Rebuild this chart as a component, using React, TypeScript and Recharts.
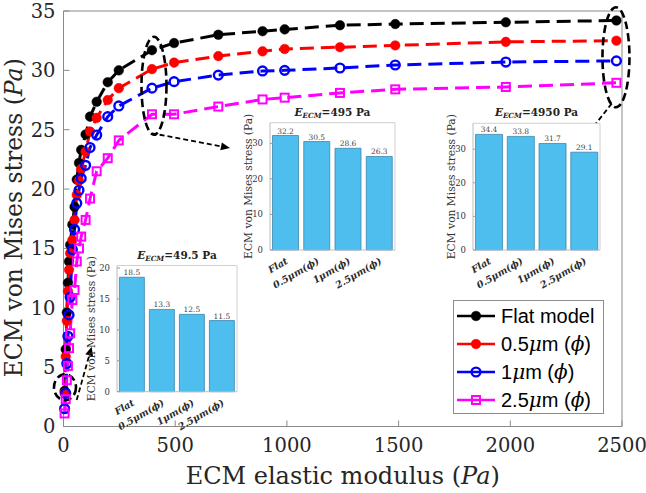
import React from "react";
import {
  LineChart,
  Line,
  XAxis,
  YAxis,
  BarChart,
  Bar,
  LabelList,
  Legend,
  ReferenceDot,
  ReferenceLine,
} from "recharts";

// ECM elastic modulus (Pa), shared by all series
const modulus = [
  4.95, 9.9, 14.85, 19.8, 24.75, 29.7, 39.6, 49.5, 59.4, 69.3, 79.2, 99, 118.8, 148.5, 198, 247.5, 396, 495, 693,
  891, 990, 1237.5, 1485, 1980, 2475,
];
// ECM von Mises stress (Pa)
const flatModel = [
  3.0, 6.5, 9.6, 12.1, 13.9, 15.3, 17.0, 18.5, 20.8, 22.2, 23.3, 24.6, 26.1, 27.35, 29.0, 30.0, 31.7, 32.3, 33.0,
  33.3, 33.45, 33.8, 33.9, 34.05, 34.2,
];
const pillar05 = [
  2.8, 5.9, 8.9, 11.4, 13.2, 14.6, 15.7, 17.4, 19.5, 20.7, 21.7, 23.15, 24.85, 26.0, 27.5, 28.5, 30.1, 30.65, 31.2,
  31.6, 31.8, 31.95, 32.1, 32.4, 32.5,
];
const pillar1 = [
  1.5, 2.8, 5.3, 7.6, 9.4, 10.9, 14.9, 16.6, 18.8, 19.9, 20.9, 22.0, 23.5, 24.55, 26.1, 27.0, 28.5, 29.05, 29.6,
  29.95, 30.0, 30.2, 30.45, 30.7, 30.8,
];
const pillar25 = [
  1.1, 2.3, 3.9, 5.1, 6.6, 7.85, 10.65, 11.5, 13.9, 15.0, 16.0, 17.4, 19.2, 21.5, 22.6, 24.1, 26.3, 26.3, 26.95,
  27.55, 27.7, 28.1, 28.4, 28.6, 28.95,
];
const seriesNames = ["Flat model", "0.5μm (ϕ)", "1μm (ϕ)", "2.5μm (ϕ)"];
const xTicks = [0, 500, 1000, 1500, 2000, 2500];
const yTicks = [0, 5, 10, 15, 20, 25, 30, 35];

// inset bar charts
const barCategories = ["Flat", "0.5μm(ϕ)", "1μm(ϕ)", "2.5μm(ϕ)"];
const stressAt49 = [18.5, 13.3, 12.5, 11.5];
const stressAt495 = [32.2, 30.5, 28.6, 26.3];
const stressAt4950 = [34.4, 33.8, 31.7, 29.1];

const SERIF = '"DejaVu Serif", serif';
const SANS = '"Liberation Sans", Arial, sans-serif';
const AXIS_GRAY = "#8a8a8a";

const lineData = modulus.map((E, i) => ({
  E,
  flat: flatModel[i],
  p05: pillar05[i],
  p1: pillar1[i],
  p25: pillar25[i],
}));

const series = [
  { key: "flat", name: seriesNames[0], color: "#000000", marker: "disc" },
  { key: "p05", name: seriesNames[1], color: "#ff0000", marker: "disc" },
  { key: "p1", name: seriesNames[2], color: "#0000ff", marker: "ring" },
  { key: "p25", name: seriesNames[3], color: "#ff00ff", marker: "square" },
];

function renderMarker(kind: string, color: string, cx: number, cy: number, key: string) {
  if (cx == null || cy == null) return <g key={key} />;
  if (kind === "disc") return <circle key={key} cx={cx} cy={cy} r={4.8} fill={color} stroke={color} strokeWidth={0.5} />;
  if (kind === "ring")
    return <circle key={key} cx={cx} cy={cy} r={4.4} fill="none" stroke={color} strokeWidth={2.4} />;
  return <rect key={key} x={cx - 4} y={cy - 4} width={8} height={8} fill="none" stroke={color} strokeWidth={2} />;
}

function mathText(s: string) {
  return s.split(/([μϕ])/).map((part, i) =>
    part === "μ" || part === "ϕ" ? (
      <i key={i} style={{ fontFamily: SERIF }}>
        {part}
      </i>
    ) : (
      <span key={i}>{part}</span>
    )
  );
}

// dashed callout ellipses and arrows, in data units
const ellipses = [
  { x: 405, y: 28.7, rx: 12.5, ry: 49 },
  { x: 2473, y: 31.1, rx: 13.5, ry: 50 },
  { x: 6.7, y: 3.3, rx: 11, ry: 13 },
];
const arrows = [
  [{ x: 395, y: 24.7 }, { x: 745, y: 23.46 }],
  [{ x: 2454, y: 27.2 }, { x: 2349, y: 24.7 }],
  [{ x: 59, y: 2.23 }, { x: 126, y: 6.72 }],
];

const arrowShape = (p: any) => {
  const { x1, y1, x2, y2 } = p;
  const a = Math.atan2(y2 - y1, x2 - x1);
  const L = 9;
  const W = 4;
  const bx = x2 - L * Math.cos(a);
  const by = y2 - L * Math.sin(a);
  const pts = `${x2},${y2} ${bx - W * Math.sin(a)},${by + W * Math.cos(a)} ${bx + W * Math.sin(a)},${by - W * Math.cos(a)}`;
  return (
    <g>
      <line x1={x1} y1={y1} x2={bx} y2={by} stroke="#000" strokeWidth={1.8} strokeDasharray="5 3" />
      <polygon points={pts} fill="#000" />
    </g>
  );
};

const LegendBox = () => (
  <div
    style={{
      boxSizing: "border-box",
      width: 151,
      height: 114,
      border: "1px solid #8c8c8c",
      background: "#fff",
      paddingTop: 1,
    }}
  >
    {series.map((s) => (
      <div key={s.key} style={{ display: "flex", alignItems: "center", height: 28 }}>
        <svg width={44} height={20} style={{ flex: "none" }}>
          <line x1={3} x2={41} y1={10} y2={10} stroke={s.color} strokeWidth={2.5} />
          {renderMarker(s.marker, s.color, 22, 10, "m")}
        </svg>
        <span style={{ font: `20px ${SANS}`, marginLeft: 3, color: "#000", whiteSpace: "nowrap" }}>
          {mathText(s.name)}
        </span>
      </div>
    ))}
  </div>
);

const XTitle = (props: any) => {
  const vb = props.viewBox || { x: 63.5, y: 426.5, width: 558.5, height: 66.5 };
  return (
    <text x={vb.x + vb.width / 2} y={vb.y + 57} textAnchor="middle" fontFamily={SERIF} fontSize={24} fill="#262626">
      ECM elastic modulus (<tspan fontStyle="italic">Pa</tspan>)
    </text>
  );
};

const YTitle = (props: any) => {
  const vb = props.viewBox || { x: 0, y: 11, width: 63.5, height: 415.5 };
  const x = vb.x + 22;
  const y = vb.y + vb.height / 2 - 1;
  return (
    <text
      x={x}
      y={y}
      transform={`rotate(-90, ${x}, ${y})`}
      textAnchor="middle"
      fontFamily={SERIF}
      fontSize={23.5}
      fill="#262626"
    >
      ECM von Mises stress (<tspan fontStyle="italic">Pa</tspan>)
    </text>
  );
};

const SlantTick = (props: any) => {
  const { x, y, payload } = props;
  const tx = x + 3;
  const ty = y + 5;
  return (
    <text
      x={tx}
      y={ty}
      transform={`rotate(-30, ${tx}, ${ty})`}
      textAnchor="end"
      fontFamily={SERIF}
      fontSize={9.5}
      fontStyle="italic"
      fontWeight="bold"
      fill="#2a2a2a"
    >
      {payload.value}
    </text>
  );
};

interface InsetProps {
  values: number[];
  label: string;
  yMax: number;
  ticks: number[];
  left: number;
  top: number;
  width: number;
  height: number;
  plotTop: number;
  plotBottom: number;
  plotLeft: number;
  plotRight: number;
  labelOffset: number;
}

function InsetBars(p: InsetProps) {
  const data = barCategories.map((name, i) => ({ name, stress: p.values[i] }));
  const yAxisWidth = p.plotLeft - p.left;
  const xAxisHeight = 30;
  return (
    <div style={{ position: "absolute", left: p.left, top: p.top, width: p.width, height: p.height }}>
      <div
        style={{
          position: "absolute",
          left: yAxisWidth,
          width: p.plotRight - p.plotLeft,
          top: p.plotTop - p.top - 18,
          textAlign: "center",
          font: `bold 10.5px ${SERIF}`,
          lineHeight: "14px",
          color: "#222",
          whiteSpace: "nowrap",
        }}
      >
        <i>E</i>
        <span style={{ fontSize: "0.68em", verticalAlign: "-0.3em" }}>
          <i>ECM</i>
        </span>
        ={p.label} Pa
      </div>
      <BarChart
        width={p.width}
        height={p.height}
        data={data}
        margin={{
          top: p.plotTop - p.top - 1,
          right: p.left + p.width - p.plotRight - 1,
          left: 0,
          bottom: p.top + p.height - p.plotBottom - xAxisHeight,
        }}
        barCategoryGap="8%"
      >
        <rect x={p.plotLeft - p.left} y={p.plotTop - p.top} width={p.plotRight - p.plotLeft} height={p.plotBottom - p.plotTop} fill="#fff" />
        <XAxis
          dataKey="name"
          height={xAxisHeight}
          interval={0}
          tickLine={false}
          axisLine={{ stroke: "#bdbdbd" }}
          tick={<SlantTick />}
        />
        <XAxis xAxisId="top" dataKey="name" orientation="top" height={1} tick={false} tickLine={false} axisLine={{ stroke: "#d0d0d0" }} />
        <YAxis
          domain={[0, p.yMax]}
          ticks={p.ticks}
          width={yAxisWidth}
          interval={0}
          tickSize={-3}
          tickMargin={10}
          tickLine={{ stroke: "#9a9a9a" }}
          axisLine={{ stroke: "#bdbdbd" }}
          tick={{ fontFamily: SERIF, fontSize: 8.5, fill: "#333" }}
          label={{
            value: "ECM von Mises stress (Pa)",
            angle: -90,
            position: "insideLeft",
            offset: p.labelOffset,
            style: { textAnchor: "middle", fontFamily: SERIF, fontSize: 10.7, fill: "#333" },
          }}
        />
        <YAxis yAxisId="right" orientation="right" width={1} domain={[0, p.yMax]} tick={false} tickLine={false} axisLine={{ stroke: "#d0d0d0" }} />
        <Bar dataKey="stress" fill="#4dbeee" stroke="#3b87ad" strokeWidth={0.8} isAnimationActive={false}>
          <LabelList dataKey="stress" position="top" offset={2} style={{ fontFamily: SERIF, fontSize: 7.5, fill: "#444" }} />
        </Bar>
      </BarChart>
    </div>
  );
}

export default function App() {
  return (
    <div style={{ position: "absolute", left: 0, top: 0, width: 646, height: 493, background: "#fff", overflow: "hidden" }}>
      <LineChart width={646} height={493} data={lineData} margin={{ top: 10, right: 23, left: 0, bottom: 0 }}>
        <XAxis
          dataKey="E"
          type="number"
          domain={[0, 2500]}
          ticks={xTicks}
          interval={0}
          height={66.5}
          tickSize={-6}
          tickMargin={17.5}
          axisLine={{ stroke: AXIS_GRAY }}
          tickLine={{ stroke: AXIS_GRAY }}
          tick={{ fontFamily: SERIF, fontSize: 19.5, fill: "#262626" }}
          label={<XTitle />}
        />
        <XAxis
          xAxisId="top"
          dataKey="E"
          type="number"
          orientation="top"
          domain={[0, 2500]}
          ticks={xTicks}
          height={1}
          tick={false}
          tickSize={-6}
          axisLine={{ stroke: AXIS_GRAY }}
          tickLine={{ stroke: AXIS_GRAY }}
        />
        <YAxis
          type="number"
          domain={[0, 35]}
          ticks={yTicks}
          interval={0}
          width={63.5}
          tickSize={-6}
          tickMargin={14}
          axisLine={{ stroke: AXIS_GRAY }}
          tickLine={{ stroke: AXIS_GRAY }}
          tick={{ fontFamily: SERIF, fontSize: 19.5, fill: "#262626" }}
          label={<YTitle />}
        />
        <YAxis
          yAxisId="right"
          orientation="right"
          type="number"
          domain={[0, 35]}
          ticks={yTicks}
          width={1}
          tick={false}
          tickSize={-6}
          axisLine={{ stroke: AXIS_GRAY }}
          tickLine={{ stroke: AXIS_GRAY }}
        />
        {series.map((s) => (
          <Line
            key={s.key}
            type="linear"
            dataKey={s.key}
            name={s.name}
            stroke={s.color}
            strokeWidth={3}
            strokeDasharray="14 7"
            dot={(d: any) => renderMarker(s.marker, s.color, d.cx, d.cy, `${s.key}-${d.index}`)}
            activeDot={false}
            isAnimationActive={false}
          />
        ))}
        {ellipses.map((e, i) => (
          <ReferenceDot
            key={`ell-${i}`}
            x={e.x}
            y={e.y}
            ifOverflow="visible"
            shape={(p: any) => (
              <ellipse cx={p.cx} cy={p.cy} rx={e.rx} ry={e.ry} fill="none" stroke="#000" strokeWidth={2.6} strokeDasharray="8 4" />
            )}
          />
        ))}
        {arrows.map((seg, i) => (
          <ReferenceLine key={`arr-${i}`} segment={seg} ifOverflow="visible" shape={arrowShape} />
        ))}
        <Legend
          layout="vertical"
          align="center"
          verticalAlign="middle"
          wrapperStyle={{ position: "absolute", left: 453, top: 300, width: 151, height: 114 }}
          content={() => <LegendBox />}
        />
      </LineChart>
      <InsetBars
        values={stressAt49}
        label="49.5"
        yMax={20.4}
        ticks={[0, 5, 10, 15, 20]}
        left={80}
        top={245}
        width={170}
        height={200}
        plotLeft={117}
        plotRight={237}
        plotTop={265.5}
        plotBottom={391.7}
        labelOffset={11}
      />
      <InsetBars
        values={stressAt495}
        label="495"
        yMax={35.8}
        ticks={[0, 10, 20, 30]}
        left={240}
        top={100}
        width={165}
        height={202}
        plotLeft={270}
        plotRight={395}
        plotTop={122.7}
        plotBottom={250}
        labelOffset={8}
      />
      <InsetBars
        values={stressAt4950}
        label="4950"
        yMax={37.7}
        ticks={[0, 10, 20, 30]}
        left={443}
        top={100}
        width={167}
        height={202}
        plotLeft={473}
        plotRight={600}
        plotTop={123.3}
        plotBottom={250}
        labelOffset={8}
      />
    </div>
  );
}
